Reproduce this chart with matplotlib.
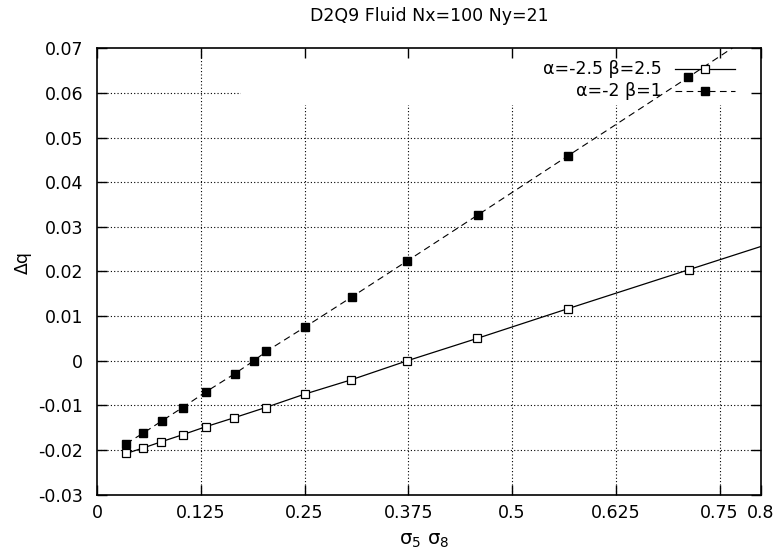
import matplotlib
matplotlib.use('Agg')
import matplotlib.pyplot as plt
from matplotlib.patches import Rectangle
from matplotlib.lines import Line2D

plt.rcParams['font.family'] = ['DejaVu Sans']
plt.rcParams['mathtext.fontset'] = 'dejavusans'

# series 1: alpha=-2.5 beta=2.5 (open squares, solid line)
x_open = [0.035, 0.055, 0.077, 0.103, 0.131, 0.165, 0.203, 0.250, 0.306, 0.374, 0.458, 0.568, 0.713, 0.90]
y_open = [-0.0208, -0.0196, -0.0182, -0.0166, -0.0148, -0.0128, -0.0105, -0.0075,
          -0.0043, 0.0000, 0.0050, 0.0117, 0.0204, 0.0316]

# series 2: alpha=-2 beta=1 (filled squares, dashed line)
x_fill = [0.035, 0.055, 0.078, 0.103, 0.131, 0.166, 0.189, 0.204, 0.251, 0.307, 0.374, 0.459, 0.568, 0.712, 0.90]
y_fill = [-0.0186, -0.0163, -0.0135, -0.0105, -0.0070, -0.0029, 0.0000, 0.0021, 0.0076,
          0.0143, 0.0224, 0.0327, 0.0460, 0.0635, 0.0867]

labels = ['\u03b1=-2.5 \u03b2=2.5', '\u03b1=-2 \u03b2=1']
xticks = [0, 0.125, 0.25, 0.375, 0.5, 0.625, 0.75, 0.8]
xticklabels = ['0', '0.125', '0.25', '0.375', '0.5', '0.625', '0.75', '0.8']
yticks = [-0.03, -0.02, -0.01, 0, 0.01, 0.02, 0.03, 0.04, 0.05, 0.06, 0.07]

FS = 12.5

fig = plt.figure(figsize=(7.77, 5.55), dpi=100)
ax = fig.add_axes([0.125, 0.109, 0.8544, 0.8037])

# gridlines (drawn by hand so the key box can hide part of them)
for xv in xticks[1:-1]:
    ax.axvline(xv, color='black', lw=0.8, ls=(0, (1, 2)), zorder=0.3)
for yv in yticks[1:-1]:
    ax.axhline(yv, color='black', lw=0.8, ls=(0, (1, 2)), zorder=0.3)

# opaque key area
ax.add_patch(Rectangle((0.2167, 0.8733), 0.79, 0.14, transform=ax.transAxes,
                       facecolor='white', edgecolor='none', zorder=0.4))

ax.plot(x_open, y_open, color='black', lw=0.9, marker='s', ms=6,
        mfc='white', mec='black', mew=0.9, zorder=2)
ax.plot(x_fill, y_fill, color='black', lw=0.8, dashes=(6, 4), marker='s', ms=6,
        mfc='black', mec='black', zorder=2)

# key
ax.text(0.851, 0.954, labels[0], transform=ax.transAxes, ha='right', va='center', fontsize=FS)
ax.text(0.851, 0.905, labels[1], transform=ax.transAxes, ha='right', va='center', fontsize=FS)
ax.add_line(Line2D([0.871, 0.961], [0.954, 0.954], transform=ax.transAxes, color='black', lw=0.9))
ax.add_line(Line2D([0.916], [0.954], transform=ax.transAxes, marker='s', ms=6,
                   mfc='white', mec='black', mew=0.9, ls='none'))
ax.add_line(Line2D([0.871, 0.961], [0.905, 0.905], transform=ax.transAxes, color='black',
                   lw=0.8, dashes=(6, 4)))
ax.add_line(Line2D([0.916], [0.905], transform=ax.transAxes, marker='s', ms=6,
                   mfc='black', mec='black', ls='none'))

ax.set_xlim(0, 0.8)
ax.set_ylim(-0.03, 0.07)
ax.set_xticks(xticks)
ax.set_xticklabels(xticklabels)
ax.set_yticks(yticks)
ax.set_yticklabels(['%g' % v for v in yticks])
ax.tick_params(direction='in', length=7, width=1.0, top=True, right=True,
               labelsize=FS, colors='black')
ax.tick_params(axis='x', pad=7)
ax.tick_params(axis='y', pad=10)
for s in ax.spines.values():
    s.set_linewidth(1.2)

ax.text(0.5, 1.062, 'D2Q9 Fluid Nx=100 Ny=21', transform=ax.transAxes,
        ha='center', va='baseline', fontsize=FS)
ax.set_xlabel(r'$\mathrm{\sigma}_5\ \mathrm{\sigma}_8$', fontsize=14)
ax.xaxis.set_label_coords(0.493, -0.082)
ax.set_ylabel('\u0394q', fontsize=FS)
ax.yaxis.set_label_coords(-0.098, 0.52)

fig.savefig('out.png', dpi=100)
